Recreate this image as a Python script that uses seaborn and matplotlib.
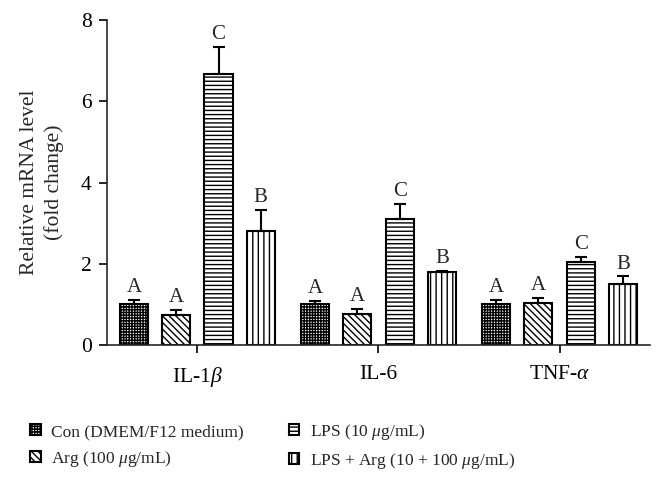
import numpy as np
import pandas as pd
import matplotlib
matplotlib.use('Agg')
import matplotlib.pyplot as plt
import seaborn as sns

# data
genes = ['IL-1$\\beta$', 'IL-6', 'TNF-$\\alpha$']
groups = ['Con (DMEM/F12 medium)', 'Arg (100 $\\mu$g/mL)',
          'LPS (10 $\\mu$g/mL)', 'LPS + Arg (10 + 100 $\\mu$g/mL)']
con_mean = [1.01, 1.00, 1.01]
arg_mean = [0.74, 0.76, 1.03]
lps_mean = [6.67, 3.11, 2.04]
lps_arg_mean = [2.81, 1.79, 1.51]
con_err = [0.11, 0.08, 0.10]
arg_err = [0.12, 0.13, 0.13]
lps_err = [0.66, 0.37, 0.14]
lps_arg_err = [0.51, 0.04, 0.18]
letters = [['A', 'A', 'A'], ['A', 'A', 'A'], ['C', 'C', 'C'], ['B', 'B', 'B']]

means = [con_mean, arg_mean, lps_mean, lps_arg_mean]
errs = [con_err, arg_err, lps_err, lps_arg_err]
hatches = ['++++++', '\\\\\\\\\\', '----', '|||']

rows = []
for g, vals in zip(groups, means):
    for gene, v in zip(genes, vals):
        rows.append({'gene': gene, 'group': g, 'value': v})
df = pd.DataFrame(rows)

sns.set_style('ticks')
plt.rcParams['font.family'] = ['Liberation Serif', 'DejaVu Serif']
plt.rcParams['mathtext.fontset'] = 'custom'
plt.rcParams['mathtext.rm'] = 'Liberation Serif'
plt.rcParams['mathtext.it'] = 'Liberation Serif:italic'
plt.rcParams['hatch.linewidth'] = 1.0
plt.rcParams['hatch.color'] = 'black'

fig = plt.figure(figsize=(6.64, 4.78), dpi=100)
ax = fig.add_axes([0.161, 0.278, 0.818, 0.68])

sns.barplot(data=df, x='gene', y='value', hue='group', order=genes,
            hue_order=groups, palette=['white'] * 4, width=0.933, gap=0.333,
            edgecolor='black', linewidth=1.5, errorbar=None, legend=False, ax=ax)

bar_conts = list(ax.containers)
for i, cont in enumerate(bar_conts):
    for j, bar in enumerate(cont):
        bar.set_hatch(hatches[i])
        xc = bar.get_x() + bar.get_width() / 2
        h = bar.get_height()
        ax.errorbar(xc, h, yerr=[[0], [errs[i][j]]], color='black', lw=1.5,
                    capsize=4.5, capthick=1.5, zorder=1)
        ax.text(xc, h + errs[i][j] + 0.07, letters[i][j], ha='center',
                va='bottom', fontsize=15)

ax.set_ylim(0, 8)
ax.set_xlim(-0.5, 2.5)
ax.set_yticks([0, 2, 4, 6, 8])
ax.set_xlabel('')
ax.set_ylabel('Relative mRNA level\n(fold change)', fontsize=15.5, labelpad=12,
              linespacing=1.35)
ax.tick_params(axis='both', labelsize=15.5, width=1.2, length=6, colors='black')
ax.tick_params(axis='x', pad=8)
ax.tick_params(axis='y', pad=5)
for s in ['left', 'bottom']:
    ax.spines[s].set_linewidth(1.2)
sns.despine(ax=ax)

fig.legend(bar_conts, groups, loc='upper left', bbox_to_anchor=(0.022, 0.15),
           ncol=2, frameon=False, fontsize=12.5, handlelength=0.6, handleheight=0.6,
           handletextpad=0.6, columnspacing=2.6, labelspacing=0.5)

plt.savefig('out.png', dpi=100)
plt.close()
